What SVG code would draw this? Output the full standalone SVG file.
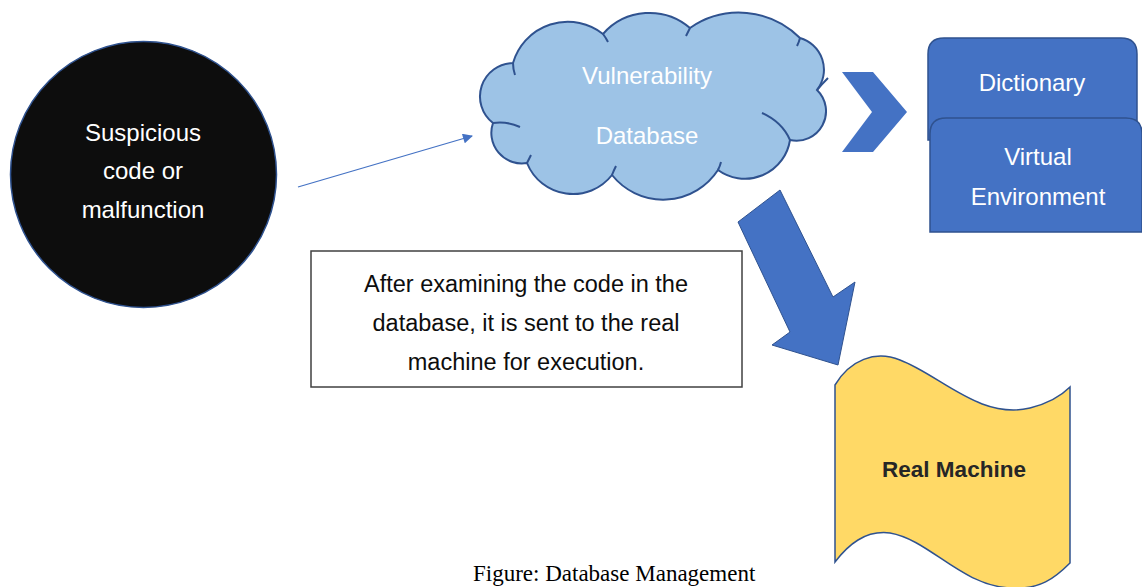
<svg xmlns="http://www.w3.org/2000/svg" width="1142" height="587" viewBox="0 0 1142 587">
<style>
.t{font-family:"Liberation Sans",Arial,sans-serif;text-anchor:middle}
.w{fill:#ffffff}
.blue{fill:#4472c4;stroke:#2f528f;stroke-width:1.5}
</style>
<defs>
<marker id="ah" viewBox="0 0 10 10" refX="9" refY="5" markerWidth="11" markerHeight="10" orient="auto" markerUnits="userSpaceOnUse">
<path d="M0,0 L10,5 L0,10 z" fill="#4472c4"/>
</marker>
</defs>
<rect width="1142" height="587" fill="#ffffff"/>
<g id="connectors">
<line x1="298" y1="187" x2="472" y2="136" stroke="#4472c4" stroke-width="1.3" marker-end="url(#ah)"/>
<polygon id="chevron" points="842,72 873,72 907,112 873,152 842,152 872,112" fill="#4472c4"/>
<polygon id="bigarrow" points="738,222 780,190 833,297 855,282 838,365 772,345 790,332" fill="#4472c4" stroke="#2f528f" stroke-width="1"/>
</g>
<g id="suspicious">
<circle cx="143.5" cy="174.5" r="133" fill="#0d0d0d" stroke="#2f528f" stroke-width="1.5"/>
<text class="t w" x="143" y="141" font-size="24">Suspicious</text>
<text class="t w" x="143" y="179" font-size="24">code or</text>
<text class="t w" x="143" y="218" font-size="24">malfunction</text>
</g>
<g id="cloud">
<path d="M493,123 A33.5,33.5 0 0 1 513,63 A57,57 0 0 1 603,34 A62,62 0 0 1 690,28 A86,86 0 0 1 800,38 A33,33 0 0 1 817,90 A29.5,29.5 0 0 1 790,140 A45.6,45.6 0 0 1 718,170 A65.5,65.5 0 0 1 612,175 A49.5,49.5 0 0 1 527,163 A30.5,30.5 0 0 1 493,123 Z" fill="#9dc3e6" stroke="#2f528f" stroke-width="2"/>
<path d="M493,123 Q507,121 520,127 M513,63 Q513,69 515,75 M603,34 Q606,38 608,42 M690,28 Q688,32 686,36 M800,38 Q799,42 797,46 M817,90 Q822,84 828,78 M790,140 Q782,122 762,113 M718,170 Q720,166 721,162 M612,175 Q614,170 616,166 M527,163 Q529,159 531,155" fill="none" stroke="#2f528f" stroke-width="2"/>
<text class="t w" x="647" y="84" font-size="24">Vulnerability</text>
<text class="t w" x="647" y="144" font-size="24">Database</text>
</g>
<g id="dictionary">
<path class="blue" d="M928,140 L928,54 Q928,38 944,38 L1121,38 Q1137,38 1137,54 L1137,140 Z"/>
<text class="t w" x="1032" y="91" font-size="24">Dictionary</text>
</g>
<g id="virtual">
<path class="blue" d="M930,232 L930,134 Q930,118 946,118 L1126,118 Q1142,118 1142,134 L1142,232 Z"/>
<text class="t w" x="1038" y="165" font-size="24">Virtual</text>
<text class="t w" x="1038" y="205" font-size="24">Environment</text>
</g>
<g id="note">
<rect x="311" y="251" width="431" height="136" fill="#ffffff" stroke="#404040" stroke-width="1.5"/>
<text class="t" x="526" y="292" font-size="23.5" fill="#0d0d0d">After examining the code in the</text>
<text class="t" x="526" y="331" font-size="23.5" fill="#0d0d0d">database, it is sent to the real</text>
<text class="t" x="526" y="370" font-size="23.5" fill="#0d0d0d">machine for execution.</text>
</g>
<g id="realmachine">
<path d="M835,385 C850,360 875,350 900,360 C940,375 980,420 1030,408 C1050,403 1062,395 1070,387 L1070,563 C1055,578 1040,590 1010,588 C960,585 930,540 890,533 C865,530 848,545 835,562 Z" fill="#ffd966" stroke="#2f528f" stroke-width="1.5"/>
<text class="t" x="954" y="477" font-size="22.5" font-weight="bold" fill="#262626">Real Machine</text>
</g>
<text x="473" y="581" font-family="'Liberation Serif','Times New Roman',serif" font-size="23" fill="#000000">Figure: Database Management</text>
</svg>
